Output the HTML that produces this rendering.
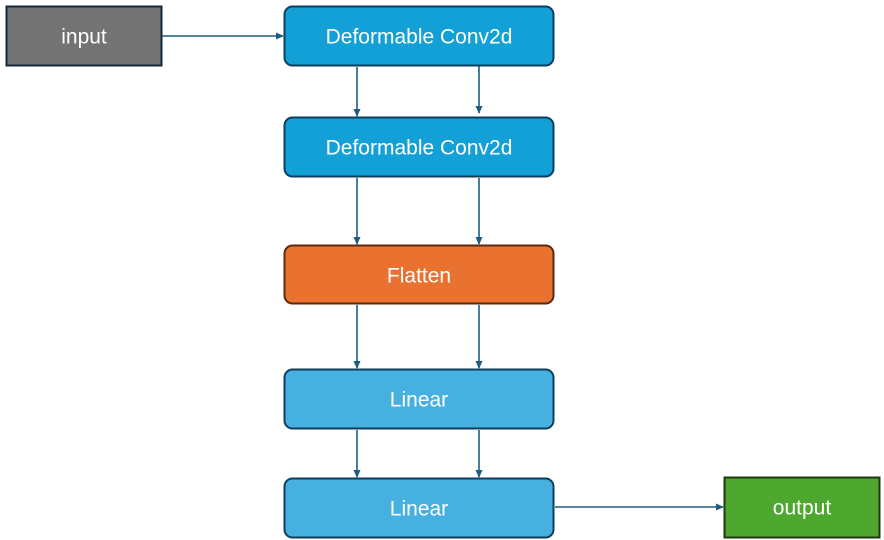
<!DOCTYPE html>
<html><head><meta charset="utf-8"><style>
html,body{margin:0;padding:0;background:#fff;}
svg{display:block;}
text{font-family:"Liberation Sans",sans-serif;font-size:21px;fill:#fff;text-anchor:middle;dominant-baseline:central;}
</style></head><body>
<svg width="884" height="540" viewBox="0 0 884 540" xmlns="http://www.w3.org/2000/svg">
<defs>
<marker id="a" markerWidth="8" markerHeight="8" refX="7" refY="4" orient="auto" markerUnits="userSpaceOnUse">
<path d="M0,0.5 L8,4 L0,7.5 Z" fill="#1d5e80"/></marker>
</defs>
<g stroke="#1d5e80" stroke-width="1.6" fill="none" marker-end="url(#a)">
<line x1="162" y1="36" x2="283" y2="36"/>
<line x1="357" y1="67" x2="357" y2="116"/>
<line x1="479" y1="66" x2="479" y2="113"/>
<line x1="357" y1="178" x2="357" y2="244"/>
<line x1="479" y1="178" x2="479" y2="244"/>
<line x1="357" y1="305" x2="357" y2="368"/>
<line x1="479" y1="305" x2="479" y2="368"/>
<line x1="357" y1="430" x2="357" y2="477"/>
<line x1="479" y1="430" x2="479" y2="477"/>
<line x1="555" y1="507" x2="723" y2="507"/>
</g>
<rect x="6.5" y="6.5" width="155" height="59" fill="#737373" stroke="#14283a" stroke-width="2"/>
<text x="84" y="37">input</text>
<rect x="284.5" y="6.5" width="269" height="59" rx="8" fill="#12a0d7" stroke="#0f3e5c" stroke-width="2"/>
<text x="419" y="37">Deformable Conv2d</text>
<rect x="284.5" y="117.5" width="269" height="59" rx="8" fill="#12a0d7" stroke="#0f3e5c" stroke-width="2"/>
<text x="419" y="148">Deformable Conv2d</text>
<rect x="284.5" y="245.5" width="269" height="58" rx="8" fill="#ea7231" stroke="#5a2a10" stroke-width="2"/>
<text x="419" y="276">Flatten</text>
<rect x="284.5" y="369.5" width="269" height="59" rx="8" fill="#46b0e0" stroke="#0f3e5c" stroke-width="2"/>
<text x="419" y="400">Linear</text>
<rect x="284.5" y="478.5" width="269" height="59" rx="8" fill="#46b0e0" stroke="#0f3e5c" stroke-width="2"/>
<text x="419" y="509">Linear</text>
<rect x="724.5" y="477.5" width="155" height="60" fill="#4ea72e" stroke="#1f3a10" stroke-width="2"/>
<text x="802" y="508">output</text>
</svg>
</body></html>
